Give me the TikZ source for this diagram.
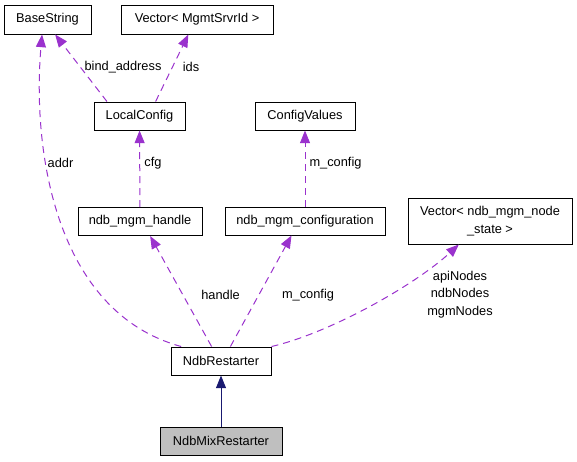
\documentclass[tikz,border=0pt]{standalone}
\usepackage{fontspec}
\setmainfont{Liberation Sans}
\usetikzlibrary{arrows.meta}

\tikzset{every picture/.style={line width=0.75pt}}
\tikzset{
  cls/.style={draw=black, fill=white, inner sep=0pt, minimum height=21pt, align=center, font=\fontsize{9.6}{13}\selectfont},
  lbl/.style={inner sep=0pt, align=center, font=\fontsize{9.6}{13}\selectfont},
  dep/.style={draw={rgb, 255:red, 154; green, 50; blue, 205}, dash pattern=on 5.25pt off 3.75pt,
    -{Triangle[length=9.5pt,width=7.5pt,fill={rgb, 255:red, 154; green, 50; blue, 205}]}},
  inh/.style={draw={rgb, 255:red, 25; green, 25; blue, 112},
    -{Triangle[length=9.5pt,width=7.5pt,fill={rgb, 255:red, 25; green, 25; blue, 112}]}}
}

\begin{document}
\begin{tikzpicture}[x=0.75pt,y=0.75pt,yscale=-1,xscale=1]
     	\useasboundingbox (0,0) rectangle (577,461);

     	\node [cls, minimum width=65.25pt, minimum height=21.75pt] (basestr) at (47.5,19.5) {BaseString};
     	\node [cls, minimum width=114pt, minimum height=21.75pt] (vecmgm) at (197,19.5) {Vector< MgmtSrvrId >};
     	\node [cls, minimum width=68.25pt] (localcfg) at (139.5,116) {LocalConfig};
     	\node [cls, minimum width=75pt] (cfgvalues) at (305,116) {ConfigValues};
     	\node [cls, minimum width=93pt] (mgmhandle) at (140,221.5) {ndb\_mgm\_handle};
     	\node [cls, minimum width=120pt] (mgmconf) at (305,221) {ndb\_mgm\_configuration};
     	\node [cls, minimum width=123pt, minimum height=34.5pt] (vecnode) at (490,221) {Vector< ndb\_mgm\_node\\\_state >};
     	\node [cls, minimum width=75pt] (restarter) at (221,361) {NdbRestarter};
     	\node [cls, minimum width=91.5pt, fill={rgb, 255:red, 191; green, 191; blue, 191}] (mixrestarter) at (221,441) {NdbMixRestarter};


     	\draw [inh] (mixrestarter) -- (restarter);

     	\draw [dep] (restarter.160) .. controls (55,312) and (32,150) .. (basestr.250);
     	\draw [dep] (localcfg.156) -- (basestr.297);
     	\draw [dep] (localcfg.42) -- (vecmgm.240);
     	\draw [dep] (mgmhandle) -- (localcfg);
     	\draw [dep] (mgmconf) -- (cfgvalues);
     	\draw [dep] (restarter.123) -- (mgmhandle.305);
     	\draw [dep] (restarter.57) -- (mgmconf.227);
     	\draw [dep] (restarter.north east) .. controls (330,333) and (415,285) .. (vecnode.217);


     	\node [lbl] (laddr) at (60.5,163) {addr};
     	\node [lbl] (lbind) at (123,67) {bind\_address};
     	\node [lbl] (lids) at (191,67) {ids};
     	\node [lbl] (lcfg) at (153,163) {cfg};
     	\node [lbl] (lmconfa) at (335.5,163) {m\_config};
     	\node [lbl] (lhandle) at (220.5,295) {handle};
     	\node [lbl] (lmconfb) at (308,295) {m\_config};
     	\node [lbl] (lnodes) at (460,294.5) {apiNodes\\ndbNodes\\mgmNodes};


     	\end{tikzpicture}
\end{document}
